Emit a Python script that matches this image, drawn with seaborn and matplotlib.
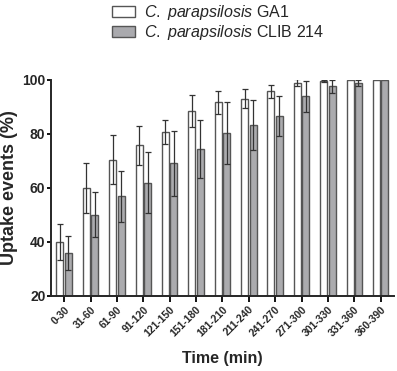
import numpy as np
import pandas as pd
import seaborn as sns
import matplotlib.pyplot as plt
from matplotlib.patches import Patch

# ──────────────────────────────────────────────
# Data
# ──────────────────────────────────────────────
time_bins = ["0-30", "31-60", "61-90", "91-120", "121-150", "151-180",
             "181-210", "211-240", "241-270", "271-300", "301-330",
             "331-360", "360-390"]

ga1_mean = [40.0, 60.0, 70.5, 75.8, 80.8, 88.5, 91.7, 93.1, 95.8, 99.0, 99.7, 100.0, 100.0]
ga1_sd   = [6.7, 9.3, 9.2, 7.2, 4.5, 6.0, 4.4, 3.6, 2.3, 1.2, 0.4, 0.0, 0.0]

clib_mean = [35.9, 50.1, 56.9, 62.0, 69.1, 74.4, 80.3, 83.4, 86.6, 93.9, 97.6, 98.8, 100.0]
clib_sd   = [6.4, 8.4, 9.5, 11.2, 11.9, 10.6, 11.4, 9.3, 7.4, 5.6, 2.5, 1.2, 0.0]

strains = ["GA1", "CLIB 214"]

df = pd.DataFrame({
    "time": time_bins * 2,
    "strain": [strains[0]] * len(time_bins) + [strains[1]] * len(time_bins),
    "uptake": ga1_mean + clib_mean,
    "sd": ga1_sd + clib_sd,
})

# ──────────────────────────────────────────────
# Style
# ──────────────────────────────────────────────
sns.set_style("ticks")
plt.rcParams["font.family"] = ["Liberation Sans", "DejaVu Sans"]
plt.rcParams["mathtext.fontset"] = "custom"
plt.rcParams["mathtext.rm"] = "Liberation Sans"
plt.rcParams["mathtext.it"] = "Liberation Sans:italic"

edge = "#555555"
colors = {"GA1": "white", "CLIB 214": "#aaaaae"}

fig = plt.figure(figsize=(3.97, 3.71), dpi=100)
ax = fig.add_axes([0.1285, 0.2022, 0.8635, 0.5822])

sns.barplot(data=df, x="time", y="uptake", hue="strain", order=time_bins,
            hue_order=strains, palette=colors, width=0.64, gap=0.17,
            errorbar=None, edgecolor=edge, linewidth=1.0, legend=False, ax=ax)

# error bars (mean ± SD) placed on the bars seaborn drew
bars = [p for p in ax.patches]
for bar, (_, row) in zip(bars, df.iterrows()):
    if row["sd"] <= 0:
        continue
    cx = bar.get_x() + bar.get_width() / 2
    ax.errorbar(cx, row["uptake"], yerr=row["sd"], color="#333333",
                elinewidth=0.9, capsize=2.5, capthick=0.9, zorder=5)

ax.set_ylim(20, 100)
ax.set_xlim(-0.5, len(time_bins) - 0.5)
ax.set_yticks([20, 40, 60, 80, 100])
ax.set_xlabel("Time (min)", fontsize=11.5, fontweight="bold", labelpad=9)
ax.set_ylabel("Uptake events (%)", fontsize=13, fontweight="bold", labelpad=3)

for lbl in ax.get_yticklabels():
    lbl.set_fontweight("bold")
    lbl.set_fontsize(10)
ax.set_xticks(range(len(time_bins)))
ax.set_xticklabels(time_bins, rotation=45, ha="right", rotation_mode="anchor",
                   fontsize=7.5, fontweight="bold")

sns.despine(ax=ax)
ax.spines["left"].set_linewidth(1.4)
ax.spines["bottom"].set_linewidth(1.4)
ax.tick_params(axis="x", width=1.3, length=4, color="black", pad=2)
ax.tick_params(axis="y", width=1.3, length=3, color="black", pad=1)

handles = [Patch(facecolor=colors[s], edgecolor=edge, linewidth=1.0) for s in strains]
labels = [r"$\mathit{C.\ parapsilosis}$ GA1", r"$\mathit{C.\ parapsilosis}$ CLIB 214"]
fig.legend(handles, labels, loc="upper left", bbox_to_anchor=(0.245, 1.03),
           frameon=False, fontsize=11.5, handlelength=1.45, handleheight=0.65,
           handletextpad=0.6, labelspacing=0.05)

fig.savefig("out.png", dpi=100)
